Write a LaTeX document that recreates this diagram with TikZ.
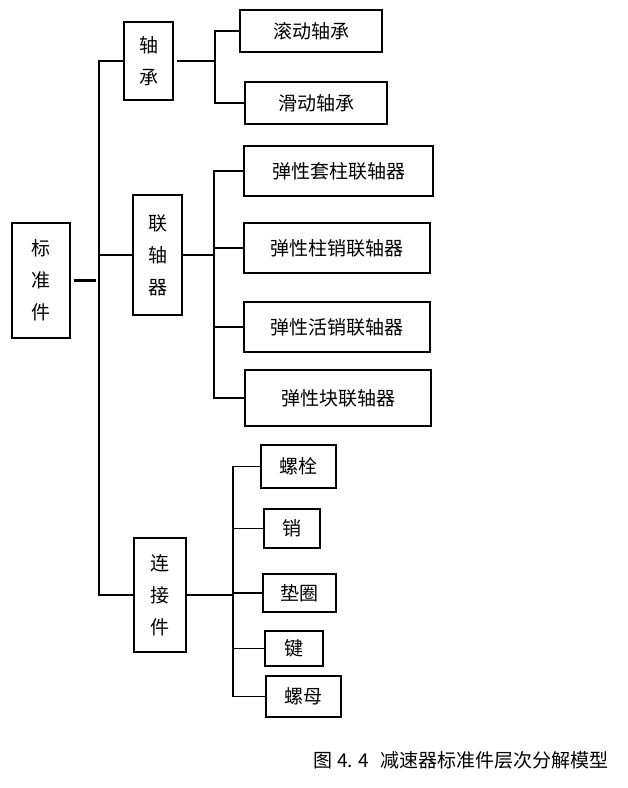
\documentclass[tikz,border=0pt]{standalone}
\usepackage{fontspec}
\newfontfamily\cjk{Noto Sans CJK SC}
\begin{document}
\begin{tikzpicture}[x=1pt,y=-1pt,
  box/.style={draw,line width=1.3pt,inner sep=0pt,align=center,font=\cjk\fontsize{19}{32}\selectfont},
  conn/.style={line width=1.6pt},
  captext/.style={inner sep=0pt,font=\cjk\fontsize{19}{22}\selectfont}]
\useasboundingbox[fill=white] (0,0) rectangle (628,788);
% level 0
\node[box,minimum width=58pt,minimum height=115pt] (std) at (41,280.5) {标\\准\\件};
% level 1
\node[box,minimum width=49pt,minimum height=78pt] (zc) at (148.5,61) {轴\\承};
\node[box,minimum width=49pt,minimum height=120pt] (lzq) at (157.5,255) {联\\轴\\器};
\node[box,minimum width=52pt,minimum height=114pt] (ljj) at (160,595) {连\\接\\件};
% bearings
\node[box,minimum width=142pt,minimum height=42pt] (gd) at (311,31) {滚动轴承};
\node[box,minimum width=142pt,minimum height=42pt] (hd) at (316,103) {滑动轴承};
% couplings
\node[box,minimum width=189pt,minimum height=50pt] (l1) at (338.5,171) {弹性套柱联轴器};
\node[box,minimum width=186pt,minimum height=50pt] (l2) at (337,248) {弹性柱销联轴器};
\node[box,minimum width=186pt,minimum height=50pt] (l3) at (337,327) {弹性活销联轴器};
\node[box,minimum width=186pt,minimum height=56pt] (l4) at (338,398) {弹性块联轴器};
% fasteners
\node[box,minimum width=75pt,minimum height=43pt] (c1) at (298.5,466.5) {螺栓};
\node[box,minimum width=56pt,minimum height=39pt] (c2) at (292,528.5) {销};
\node[box,minimum width=73pt,minimum height=38pt] (c3) at (299.5,593) {垫圈};
\node[box,minimum width=58pt,minimum height=35pt] (c4) at (294,648.5) {键};
\node[box,minimum width=75pt,minimum height=41pt] (c5) at (303.5,696.5) {螺母};
% caption
\node[captext,anchor=west] (capt) at (313,760) {图\hspace{5pt}4.\hspace{5pt}4\hspace{12pt}减速器标准件层次分解模型};
% trunk
\coordinate (tr) at (99,0);
\coordinate (j1) at (215,0);
\coordinate (j2) at (214,0);
\coordinate (j3) at (233,0);
\draw[conn,line width=2.4pt] ([xshift=3pt]std.east) -- ([xshift=-3pt]std.east -| tr);
\draw[conn] (zc.west) -- (zc.west -| tr) -- (ljj.west -| tr) -- (ljj.west);
\draw[conn] (lzq.west) -- (lzq.west -| tr);
% bearings
\draw[conn] ([xshift=3pt]zc.east) -- (zc.east -| j1);
\draw[conn] (gd.west) -- (gd.west -| j1) -- (hd.west -| j1) -- (hd.west);
% couplings
\draw[conn] (lzq.east) -- (lzq.east -| j2);
\draw[conn] (l1.west) -- (l1.west -| j2) -- (l4.west -| j2) -- (l4.west);
\draw[conn] (l2.west) -- (l2.west -| j2);
\draw[conn] (l3.west) -- (l3.west -| j2);
% fasteners
\draw[conn] (ljj.east) -- (ljj.east -| j3);
\draw[conn] (c1.west) -- (c1.west -| j3) -- (c5.west -| j3) -- (c5.west);
\draw[conn] (c2.west) -- (c2.west -| j3);
\draw[conn] (c3.west) -- (c3.west -| j3);
\draw[conn] (c4.west) -- (c4.west -| j3);
\end{tikzpicture}
\end{document}
